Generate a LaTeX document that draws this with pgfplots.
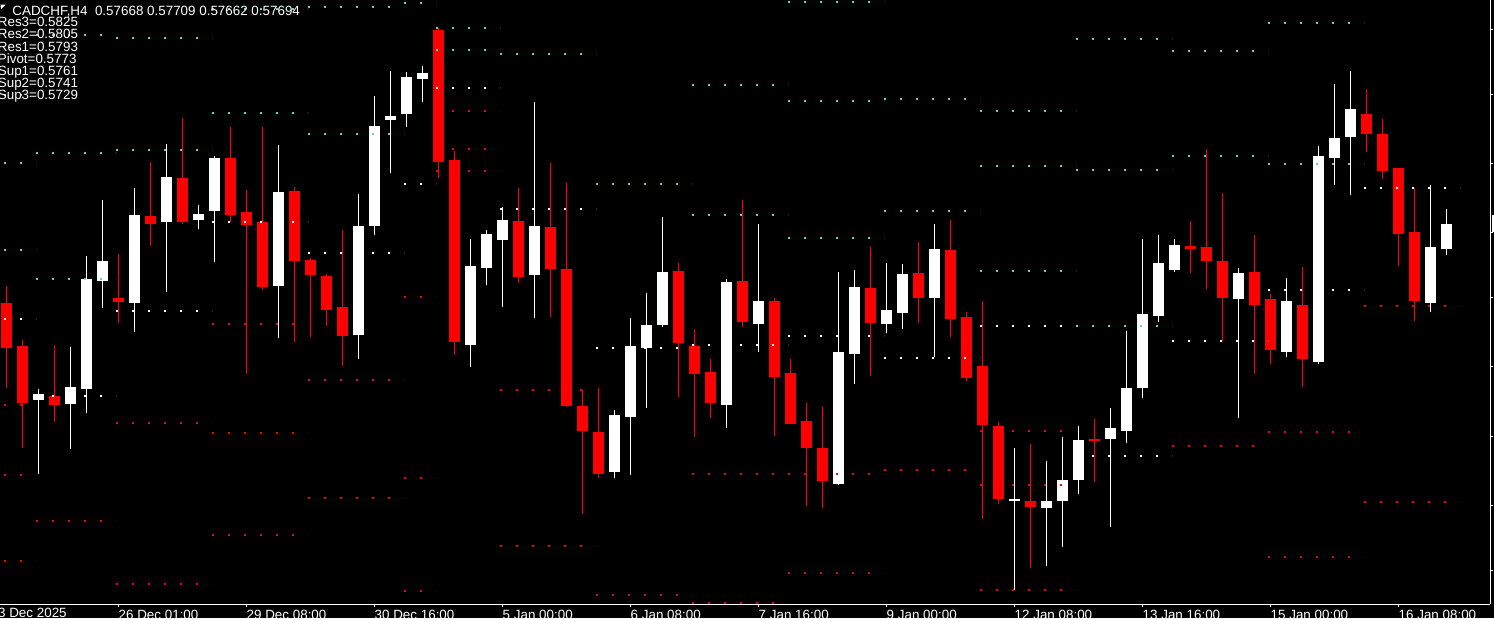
\documentclass[border=0pt]{standalone}
\usepackage{fontspec}
\setmainfont{Liberation Sans}
\usepackage{pgfplots}
\pgfplotsset{compat=1.18}
\usepackage{pgfplotstable}

\definecolor{rescol}{RGB}{100,215,180}
\definecolor{supcol}{RGB}{255,0,0}
\definecolor{dncol}{RGB}{255,0,0}

% bullish candles: index open high low close
\pgfplotstableread{
i o h l c
2 0.57514 0.57525 0.57439 0.57520
4 0.57510 0.57568 0.57464 0.57528
5 0.57525 0.57661 0.57501 0.57637
6 0.57635 0.57718 0.57608 0.57656
8 0.57613 0.57730 0.57584 0.57703
10 0.57696 0.57775 0.57624 0.57741
12 0.57698 0.57713 0.57688 0.57704
13 0.57707 0.57763 0.57655 0.57761
17 0.57630 0.57774 0.57577 0.57726
22 0.57580 0.57724 0.57556 0.57691
23 0.57691 0.57824 0.57682 0.57793
24 0.57799 0.57849 0.57745 0.57803
25 0.57806 0.57848 0.57792 0.57843
26 0.57841 0.57854 0.57818 0.57847
29 0.57570 0.57678 0.57548 0.57651
30 0.57649 0.57687 0.57631 0.57683
31 0.57677 0.57711 0.57609 0.57698
33 0.57642 0.57818 0.57598 0.57691
38 0.57441 0.57504 0.57435 0.57499
39 0.57497 0.57598 0.57438 0.57569
40 0.57567 0.57623 0.57506 0.57591
41 0.57591 0.57701 0.57589 0.57645
45 0.57509 0.57637 0.57486 0.57634
47 0.57592 0.57694 0.57563 0.57615
52 0.57429 0.57645 0.57428 0.57563
53 0.57561 0.57647 0.57531 0.57629
55 0.57592 0.57654 0.57583 0.57606
56 0.57603 0.57653 0.57587 0.57643
58 0.57618 0.57694 0.57558 0.57668
63 0.57411 0.57465 0.57321 0.57413
65 0.57404 0.57452 0.57345 0.57411
66 0.57411 0.57477 0.57365 0.57433
67 0.57433 0.57488 0.57419 0.57474
69 0.57475 0.57506 0.57385 0.57486
70 0.57483 0.57585 0.57470 0.57526
71 0.57526 0.57678 0.57516 0.57602
72 0.57600 0.57682 0.57594 0.57654
73 0.57647 0.57678 0.57645 0.57672
77 0.57617 0.57649 0.57496 0.57644
80 0.57563 0.57639 0.57558 0.57615
82 0.57553 0.57773 0.57551 0.57763
83 0.57761 0.57836 0.57733 0.57781
84 0.57782 0.57849 0.57723 0.57811
89 0.57613 0.57733 0.57604 0.57670
90 0.57668 0.57709 0.57662 0.57694
}\upbars

% bearish candles: index open high low close
\pgfplotstableread{
i o h l c
0 0.57613 0.57630 0.57527 0.57567
1 0.57569 0.57575 0.57465 0.57511
3 0.57518 0.57570 0.57492 0.57509
7 0.57618 0.57663 0.57593 0.57614
9 0.57702 0.57757 0.57671 0.57693
11 0.57740 0.57801 0.57694 0.57696
14 0.57761 0.57792 0.57696 0.57703
15 0.57706 0.57728 0.57541 0.57692
16 0.57696 0.57792 0.57626 0.57629
18 0.57727 0.57731 0.57573 0.57656
19 0.57657 0.57659 0.57578 0.57642
20 0.57641 0.57643 0.57590 0.57606
21 0.57609 0.57687 0.57549 0.57579
27 0.57891 0.57893 0.57740 0.57757
28 0.57759 0.57768 0.57560 0.57573
32 0.57697 0.57730 0.57633 0.57640
34 0.57690 0.57756 0.57599 0.57648
35 0.57648 0.57735 0.57507 0.57508
36 0.57508 0.57524 0.57398 0.57483
37 0.57482 0.57526 0.57435 0.57439
42 0.57646 0.57654 0.57517 0.57572
43 0.57569 0.57587 0.57477 0.57541
44 0.57543 0.57556 0.57496 0.57511
46 0.57635 0.57718 0.57589 0.57594
48 0.57615 0.57618 0.57478 0.57538
49 0.57542 0.57556 0.57490 0.57490
50 0.57493 0.57511 0.57406 0.57465
51 0.57465 0.57507 0.57404 0.57432
54 0.57628 0.57670 0.57539 0.57593
57 0.57644 0.57675 0.57593 0.57618
59 0.57667 0.57698 0.57578 0.57597
60 0.57599 0.57604 0.57534 0.57537
61 0.57549 0.57615 0.57393 0.57489
62 0.57488 0.57492 0.57408 0.57413
64 0.57411 0.57469 0.57343 0.57405
68 0.57475 0.57495 0.57431 0.57473
74 0.57671 0.57697 0.57644 0.57668
75 0.57670 0.57770 0.57627 0.57656
76 0.57656 0.57725 0.57574 0.57618
78 0.57645 0.57682 0.57541 0.57611
79 0.57617 0.57622 0.57551 0.57565
81 0.57611 0.57650 0.57528 0.57556
85 0.57806 0.57831 0.57767 0.57785
86 0.57785 0.57800 0.57739 0.57747
87 0.57751 0.57751 0.57651 0.57683
88 0.57685 0.57730 0.57595 0.57615
}\dnbars

% daily pivot levels: first bar index of the day, levels
\pgfplotstableread{
d R3 R2 R1 P S1 S2 S3
0 0.57825 0.57756 0.57667 0.57597 0.57509 0.57438 0.57350
2 0.57886 0.57766 0.57638 0.57518 0.57391 0.57271 0.57144
7 0.58047 0.57883 0.57769 0.57605 0.57491 0.57327 0.57213
13 0.58022 0.57912 0.57807 0.57696 0.57592 0.57481 0.57377
19 0.58035 0.57914 0.57785 0.57664 0.57535 0.57414 0.57285
25 0.58219 0.58034 0.57919 0.57734 0.57619 0.57435 0.57320
27 0.57933 0.57893 0.57871 0.57832 0.57809 0.57770 0.57747
31 0.58210 0.58052 0.57867 0.57709 0.57524 0.57366 0.57181
37 0.58152 0.57985 0.57734 0.57567 0.57316 0.57149 0.56898
43 0.57967 0.57835 0.57703 0.57570 0.57439 0.57308 0.57175
49 0.57920 0.57819 0.57679 0.57579 0.57439 0.57338 0.57199
55 0.57971 0.57821 0.57707 0.57557 0.57443 0.57293 0.57179
61 0.57809 0.57753 0.57646 0.57590 0.57483 0.57428 0.57321
67 0.57882 0.57748 0.57590 0.57457 0.57299 0.57166 0.57008
73 0.58059 0.57870 0.57763 0.57574 0.57467 0.57278 0.57171
79 0.58028 0.57898 0.57755 0.57626 0.57482 0.57354 0.57209
85 0.58250 0.58050 0.57930 0.57730 0.57610 0.57410 0.57290
91 0.58250 0.58050 0.57930 0.57730 0.57610 0.57410 0.57290
}\pivots

\newcommand\lbl{\fontsize{6.7}{6.05}\selectfont}

\begin{document}
\begin{tikzpicture}
\useasboundingbox (0,0) rectangle (747pt,309pt);
\fill[black] (0,0) rectangle (747pt,309pt);
\clip (0,0) rectangle (747pt,309pt);
\begin{axis}[
  at={(0pt,7pt)}, anchor=south west,
  scale only axis, width=745pt, height=302pt,
  xmin=-0.39375, xmax=92.73125,
  ymin=0.5730655, ymax=0.579216,
  axis x line*=bottom, axis y line*=right,
  axis line style={white, line width=0.5pt, -},
  tick align=outside, major tick length=1.5pt,
  tick style={white, line width=0.5pt},
  xtick={7,15,23,31,39,47,55,63,71,79,87},
  xticklabels={26 Dec 01:00,29 Dec 08:00,30 Dec 16:00,5 Jan 00:00,6 Jan 08:00,7 Jan 16:00,9 Jan 00:00,12 Jan 08:00,13 Jan 16:00,15 Jan 00:00,16 Jan 08:00},
  xticklabel style={white, font=\lbl, anchor=north west, inner sep=0pt, yshift=-1.6pt},
  ytick={0.578917,0.578252,0.577551,0.576851,0.576186,0.575481,0.574776,0.574072,0.573406},
  yticklabels={},
  clip=true,
  candle/.style={only marks, mark=*, mark size=0pt, mark options={draw=none, fill=none}, forget plot},
]
% wicks
\addplot[candle,
  error bars/.cd, y dir=plus, y explicit, error mark=none,
  error bar style={draw=white, line width=0.5pt}]
  table[x=i, y=l, y error expr=\thisrow{h}-\thisrow{l}] {\upbars};
\addplot[candle,
  error bars/.cd, y dir=plus, y explicit, error mark=none,
  error bar style={draw=dncol, line width=0.5pt}]
  table[x=i, y=l, y error expr=\thisrow{h}-\thisrow{l}] {\dnbars};
% bodies
\addplot[candle,
  error bars/.cd, y dir=plus, y explicit, error mark=none,
  error bar style={draw=white, line width=5.5pt}]
  table[x=i, y=o, y error expr=\thisrow{c}-\thisrow{o}] {\upbars};
\addplot[candle,
  error bars/.cd, y dir=plus, y explicit, error mark=none,
  error bar style={draw=dncol, line width=5.5pt}]
  table[x=i, y=c, y error expr=\thisrow{o}-\thisrow{c}] {\dnbars};
% pivot levels
\pgfplotsset{pivline/.style={jump mark left, mark=none, line width=1pt, dash pattern=on 1pt off 7pt, forget plot}}
\addplot[pivline, rescol] table[x expr=\thisrow{d}-0.125, y=R3] {\pivots};
\addplot[pivline, rescol] table[x expr=\thisrow{d}-0.125, y=R2] {\pivots};
\addplot[pivline, rescol] table[x expr=\thisrow{d}-0.125, y=R1] {\pivots};
\addplot[pivline, white] table[x expr=\thisrow{d}-0.125, y=P] {\pivots};
\addplot[pivline, supcol] table[x expr=\thisrow{d}-0.125, y=S1] {\pivots};
\addplot[pivline, supcol] table[x expr=\thisrow{d}-0.125, y=S2] {\pivots};
\addplot[pivline, supcol] table[x expr=\thisrow{d}-0.125, y=S3] {\pivots};
\end{axis}
\begin{scope}[yshift=309pt, x=0.5pt, y=-0.5pt]
  \fill[white] (0.5,4.5) -- (5.5,4.5) -- (1,9) -- cycle;
  \node[white, font=\lbl, anchor=base west, inner sep=0pt] at (12,15.2) {CADCHF,H4\ \ 0.57668 0.57709 0.57662 0.57694};
  \foreach \t [count=\k from 0] in {Res3=0.5825,Res2=0.5805,Res1=0.5793,Pivot=0.5773,Sup1=0.5761,Sup2=0.5741,Sup3=0.5729}
    \node[white, font=\lbl, anchor=base west, inner sep=0pt] at (-2.5,26.8+12.1*\k) {\t};
  \node[white, font=\lbl, anchor=north west, inner sep=0pt] at (-9.7,607.7) {23 Dec 2025};
  \fill[white] (1491.5,215.3) rectangle (1494,231.9);
\end{scope}
\end{tikzpicture}
\end{document}
